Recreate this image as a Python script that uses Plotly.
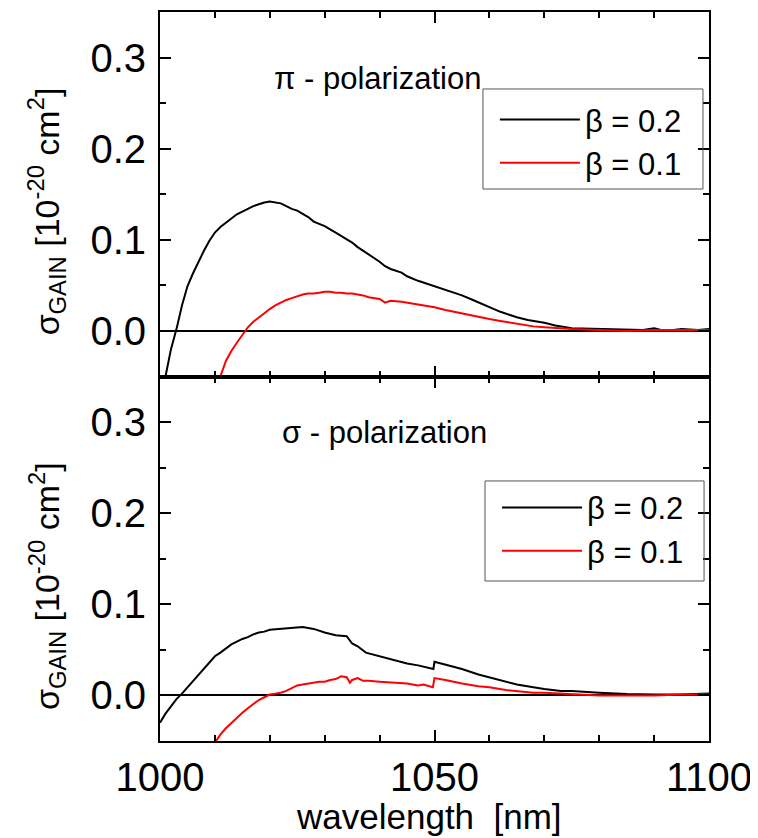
import plotly.graph_objects as go

# ---- data ----
pi_b02_x = [1000, 1001, 1002, 1003, 1004, 1005, 1006, 1007, 1008, 1009, 1010, 1011, 1012, 1013, 1014,
            1015, 1016, 1017, 1018, 1019, 1020, 1021, 1022, 1023, 1024, 1025, 1027, 1028, 1030, 1032,
            1034, 1035, 1036, 1038, 1040, 1041, 1042, 1044, 1045, 1047, 1050, 1053, 1055, 1057, 1060,
            1062, 1065, 1067, 1070, 1072, 1075, 1080, 1085, 1088, 1090, 1092, 1095, 1098, 1100]
pi_b02_y = [-0.075, -0.05, -0.02, 0.002, 0.028, 0.049, 0.063, 0.076, 0.088, 0.099, 0.108, 0.114, 0.119,
            0.124, 0.128, 0.131, 0.134, 0.137, 0.139, 0.141, 0.142, 0.141, 0.140, 0.137, 0.134, 0.132,
            0.125, 0.120, 0.115, 0.108, 0.101, 0.097, 0.092, 0.084, 0.076, 0.071, 0.068, 0.064, 0.060,
            0.055, 0.049, 0.043, 0.039, 0.034, 0.026, 0.021, 0.015, 0.012, 0.009, 0.006, 0.003, 0.002,
            0.001, 0.001, 0.003, 0.000, 0.002, 0.001, 0.002]

pi_b01_x = [1010, 1011, 1012, 1013, 1014, 1015, 1016, 1017, 1018, 1019, 1020, 1021, 1022, 1023, 1024,
            1025, 1026, 1027, 1028, 1029, 1030, 1031, 1032, 1033, 1034, 1035, 1036, 1037, 1038, 1039,
            1040, 1041, 1042, 1044, 1045, 1046, 1048, 1050, 1052, 1055, 1058, 1060, 1062, 1065, 1068,
            1070, 1075, 1080, 1085, 1090, 1095, 1100]
pi_b01_y = [-0.07, -0.05, -0.033, -0.022, -0.013, -0.004, 0.004, 0.010, 0.015, 0.019, 0.024, 0.028,
            0.031, 0.034, 0.036, 0.038, 0.040, 0.041, 0.041, 0.042, 0.043, 0.043, 0.042, 0.042, 0.041,
            0.041, 0.040, 0.039, 0.037, 0.036, 0.035, 0.031, 0.033, 0.032, 0.031, 0.030, 0.028, 0.026,
            0.023, 0.019, 0.015, 0.013, 0.011, 0.008, 0.005, 0.004, 0.002, 0.001, 0.000, 0.001, 0.001,
            0.001]

sg_b02_x = [1000, 1001, 1002, 1003, 1004, 1005, 1006, 1007, 1008, 1009, 1010, 1011, 1012, 1013, 1014,
            1015, 1016, 1017, 1018, 1019, 1020, 1022, 1024, 1025, 1026, 1028, 1030, 1032, 1034, 1035,
            1036, 1037.5, 1040, 1042, 1045, 1047, 1049.3, 1049.8, 1050, 1052, 1055, 1058, 1060, 1063,
            1065, 1068, 1070, 1073, 1075, 1080, 1085, 1090, 1095, 1100]
sg_b02_y = [-0.030, -0.020, -0.012, -0.004, 0.002, 0.009, 0.016, 0.022, 0.029, 0.036, 0.043, 0.047,
            0.052, 0.056, 0.059, 0.062, 0.064, 0.067, 0.069, 0.070, 0.072, 0.073, 0.074, 0.075, 0.075,
            0.073, 0.069, 0.066, 0.065, 0.057, 0.054, 0.047, 0.043, 0.040, 0.035, 0.033, 0.030, 0.029,
            0.037, 0.034, 0.029, 0.023, 0.020, 0.015, 0.012, 0.009, 0.007, 0.005, 0.005, 0.003, 0.0015,
            0.001, 0.001, 0.002]

sg_b01_x = [1010, 1011, 1012, 1013, 1014, 1015, 1016, 1017, 1018, 1019, 1020, 1021, 1022, 1023, 1024,
            1025, 1026, 1027, 1028, 1029, 1030, 1031, 1032, 1033, 1034, 1034.6, 1035, 1036, 1037, 1038,
            1040, 1042, 1045, 1047, 1048, 1049.7, 1050, 1052, 1055, 1058, 1060, 1063, 1065, 1068, 1070,
            1075, 1080, 1085, 1090, 1095, 1100]
sg_b01_y = [-0.052, -0.043, -0.036, -0.030, -0.024, -0.019, -0.014, -0.009, -0.005, -0.002, 0.001,
            0.002, 0.003, 0.005, 0.008, 0.011, 0.012, 0.013, 0.014, 0.015, 0.015, 0.017, 0.018, 0.021,
            0.020, 0.014, 0.017, 0.019, 0.016, 0.016, 0.015, 0.014, 0.013, 0.011, 0.012, 0.009, 0.019,
            0.017, 0.013, 0.010, 0.009, 0.006, 0.005, 0.003, 0.003, 0.0015, 0.000, 0.000, 0.000, 0.001,
            0.001]

legend_labels = ["\u03b2 = 0.2", "\u03b2 = 0.1"]
panel_labels = ["\u03c0 - polarization", "\u03c3 - polarization"]
y_title = "\u03c3<sub>GAIN</sub> [10<sup>-20</sup> cm<sup>2</sup>]"
x_title = "wavelength\u00a0 [nm]"
x_ticks = [1000, 1050, 1100]
y_ticks = [0.0, 0.1, 0.2, 0.3]

FONT = "Liberation Sans, Arial, sans-serif"

fig = go.Figure()
fig.add_trace(go.Scatter(x=pi_b02_x, y=pi_b02_y, mode="lines", name=legend_labels[0],
                         line=dict(color="black", width=2), xaxis="x", yaxis="y", legend="legend"))
fig.add_trace(go.Scatter(x=pi_b01_x, y=pi_b01_y, mode="lines", name=legend_labels[1],
                         line=dict(color="red", width=2), xaxis="x", yaxis="y", legend="legend"))
fig.add_trace(go.Scatter(x=sg_b02_x, y=sg_b02_y, mode="lines", name=legend_labels[0],
                         line=dict(color="black", width=2), xaxis="x2", yaxis="y2", legend="legend2"))
fig.add_trace(go.Scatter(x=sg_b01_x, y=sg_b01_y, mode="lines", name=legend_labels[1],
                         line=dict(color="red", width=2), xaxis="x2", yaxis="y2", legend="legend2"))

xcommon = dict(range=[1000, 1100], tickvals=x_ticks, showline=True, linecolor="black", linewidth=2,
               mirror="ticks", ticks="inside", ticklen=11, tickwidth=2, tickcolor="black",
               minor=dict(ticks="inside", dtick=10, tick0=1000, ticklen=6, tickwidth=2, tickcolor="black"),
               showgrid=False, zeroline=False, automargin=False,
               tickfont=dict(family=FONT, size=40, color="black"))
ycommon = dict(range=[-0.05, 0.35], tickvals=y_ticks, tickformat=".1f", showline=True, linecolor="black",
               linewidth=2, mirror="ticks", ticks="inside", ticklen=11, tickwidth=2, tickcolor="black",
               minor=dict(ticks="inside", dtick=0.05, tick0=0, ticklen=6, tickwidth=2, tickcolor="black"),
               showgrid=False, zeroline=True, zerolinecolor="black", zerolinewidth=2, automargin=False,
               tickfont=dict(family=FONT, size=40, color="black"), ticklabelstandoff=4)

legend_box = dict(type="rect", xref="paper", yref="paper", line=dict(color="#555", width=1),
                  fillcolor="rgba(0,0,0,0)", layer="above")
ytitle_ann = dict(xref="paper", yref="paper", text=y_title, showarrow=False, textangle=-90,
                  xanchor="center", yanchor="middle", font=dict(family=FONT, size=34, color="black"))

# The page body has an 8px default margin, so the figure is 8px smaller and its margins 8px tighter
fig.update_layout(
    template="none",
    width=750, height=830,
    margin=dict(l=152, r=49, t=4, b=97),
    paper_bgcolor="white", plot_bgcolor="white",
    font=dict(family=FONT, color="black"),
    xaxis=dict(xcommon, anchor="y", showticklabels=False),
    yaxis=dict(ycommon, domain=[0.5, 1], anchor="x"),
    xaxis2=dict(xcommon, anchor="y2", matches="x"),
    yaxis2=dict(ycommon, domain=[0, 0.5], anchor="x2"),
    legend=dict(x=0.610, y=0.889, xanchor="left", yanchor="top", bgcolor="rgba(0,0,0,0)",
                borderwidth=0, font=dict(family=FONT, size=31, color="black"),
                itemwidth=80, tracegroupgap=0),
    legend2=dict(x=0.614, y=0.357, xanchor="left", yanchor="top", bgcolor="rgba(0,0,0,0)",
                 borderwidth=0, font=dict(family=FONT, size=31, color="black"),
                 itemwidth=80, tracegroupgap=0),
    shapes=[
        dict(legend_box, x0=0.5883, x1=0.989, y0=0.7572, y1=0.8944),
        dict(legend_box, x0=0.592, x1=0.991, y0=0.2195, y1=0.3567),
    ],
    annotations=[
        dict(x=1020.4, y=0.277, xref="x", yref="y", text=panel_labels[0], showarrow=False,
             xanchor="left", yanchor="middle", font=dict(family=FONT, size=31, color="black")),
        dict(x=1021.9, y=0.289, xref="x2", yref="y2", text=panel_labels[1], showarrow=False,
             xanchor="left", yanchor="middle", font=dict(family=FONT, size=31, color="black")),
        dict(ytitle_ann, x=-0.207, y=0.727),
        dict(ytitle_ann, x=-0.207, y=0.213),
        dict(x=0.49, y=-0.104, xref="paper", yref="paper", text=x_title, showarrow=False,
             xanchor="center", yanchor="middle", font=dict(family=FONT, size=35, color="black")),
    ],
)

fig.write_html("out.html")
